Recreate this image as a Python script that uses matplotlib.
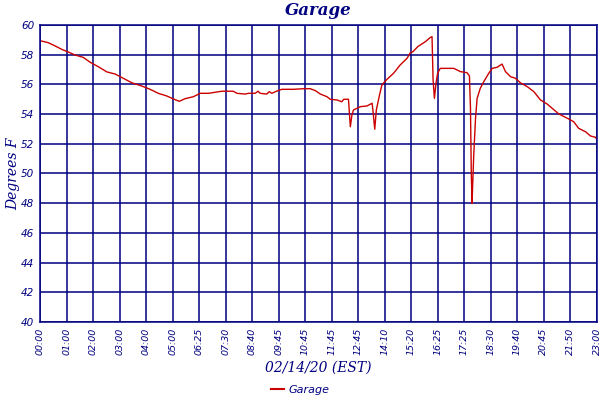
import matplotlib
matplotlib.use("Agg")
import matplotlib.pyplot as plt
from matplotlib.lines import Line2D

# ================= DATA =================

tick_labels = ["00:00", "01:00", "02:00", "03:00", "04:00", "05:00", "06:25", "07:30",
               "08:40", "09:45", "10:45", "11:45", "12:45", "14:10", "15:20", "16:25",
               "17:25", "18:30", "19:40", "20:45", "21:50", "23:00"]

# sample position measured in tick slots (one slot per label)
sample_pos = [0.06, 0.31, 0.57, 0.82, 1.07, 1.32, 1.63, 1.89, 2.20, 2.52, 2.83, 3.14,
              3.46, 3.84, 4.15, 4.46, 4.78, 5.03, 5.25, 5.47, 5.78, 6.04, 6.35, 6.86,
              7.29, 7.42, 7.74, 7.86, 8.11, 8.22, 8.30, 8.55, 8.64, 8.74, 8.91, 9.12,
              9.56, 9.94, 10.19, 10.38, 10.57, 10.82, 10.94, 11.20, 11.38, 11.45, 11.63,
              11.70, 11.76, 11.82, 12.08, 12.33, 12.52, 12.55, 12.62, 12.68, 12.80, 12.89,
              13.08, 13.33, 13.58, 13.84, 13.96, 14.06, 14.24, 14.53, 14.72, 14.78, 14.82,
              14.87, 14.93, 14.99, 15.09, 15.60, 15.85, 16.10, 16.19, 16.23, 16.26, 16.29,
              16.31, 16.35, 16.42, 16.48, 16.60, 16.73, 16.92, 17.05, 17.23, 17.42, 17.55,
              17.74, 17.92, 18.11, 18.37, 18.62, 18.87, 19.12, 19.31, 19.56, 19.88, 20.12,
              20.31, 20.57, 20.75, 20.94, 21.03]

garage_temp = [58.92, 58.81, 58.59, 58.36, 58.18, 57.98, 57.82, 57.49, 57.19, 56.84, 56.70,
               56.41, 56.11, 55.89, 55.67, 55.40, 55.22, 55.02, 54.86, 55.04, 55.17, 55.40,
               55.40, 55.54, 55.54, 55.40, 55.35, 55.40, 55.40, 55.54, 55.40, 55.35, 55.51,
               55.40, 55.54, 55.67, 55.67, 55.71, 55.71, 55.58, 55.35, 55.17, 55.00, 54.95,
               54.83, 55.00, 55.00, 53.15, 53.94, 54.28, 54.50, 54.55, 54.73, 54.28, 52.98,
               54.28, 55.29, 55.96, 56.34, 56.75, 57.31, 57.76, 58.13, 58.20, 58.54, 58.88,
               59.17, 59.21, 56.30, 55.06, 56.07, 56.75, 57.08, 57.08, 56.86, 56.79, 56.57,
               54.39, 50.01, 47.99, 49.11, 51.13, 53.72, 55.06, 55.74, 56.18, 56.75, 57.08,
               57.15, 57.37, 56.86, 56.52, 56.42, 56.11, 55.85, 55.51, 54.95, 54.68, 54.39,
               54.01, 53.72, 53.49, 53.04, 52.81, 52.53, 52.44, 52.21]

y_ticks = [40, 42, 44, 46, 48, 50, 52, 54, 56, 58, 60]

NAVY = "#000080"
RED = "#cc0000"

# ================= PLOT =================

fig = plt.figure(figsize=(6, 4), dpi=100)
ax = fig.add_axes([0.0667, 0.195, 0.9283, 0.7425])

ax.plot(sample_pos, garage_temp, color=RED, lw=1.0)

ax.set_xlim(0, 21)
ax.set_ylim(40, 60)
ax.set_xticks(range(len(tick_labels)))
ax.set_xticklabels(tick_labels, rotation=90, fontsize=6.8, style="italic", color=NAVY)
ax.set_yticks(y_ticks)
ax.set_yticklabels([str(v) for v in y_ticks], fontsize=7.5, style="italic", color=NAVY)
ax.tick_params(length=0, pad=4)

ax.grid(True, color=NAVY, lw=1.1)
ax.set_axisbelow(True)
for s in ax.spines.values():
    s.set_color(NAVY)
    s.set_linewidth(1.1)

ax.set_title("Garage", fontsize=12, style="italic", fontweight="semibold",
             family="DejaVu Serif", color=NAVY, pad=7)
ax.set_ylabel("Degrees F", fontsize=10, style="italic", family="DejaVu Serif",
              color=NAVY, labelpad=1)
ax.set_xlabel("02/14/20 (EST)", fontsize=10, style="italic", family="DejaVu Serif",
              color=NAVY, labelpad=4)

handle = Line2D([], [], color=RED, lw=1.5)
fig.legend([handle], ["Garage"], loc="lower center", bbox_to_anchor=(0.5, -0.012),
           frameon=False, handlelength=1.2, handletextpad=0.4,
           prop={"size": 8, "style": "italic"}, labelcolor=NAVY)

fig.savefig("out.png", dpi=100)
